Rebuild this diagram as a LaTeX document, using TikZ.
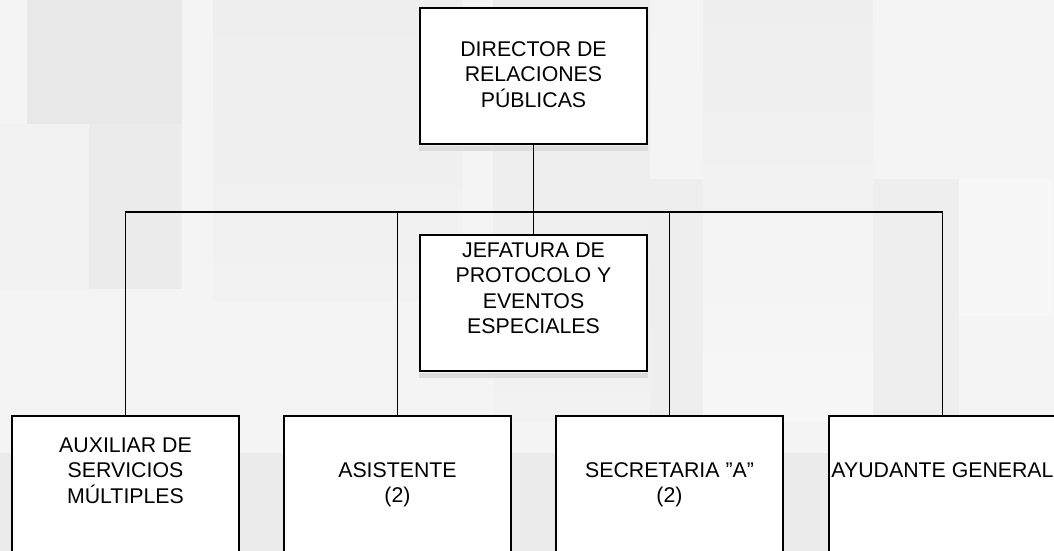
\documentclass[tikz,border=0pt]{standalone}
\usepackage{fontspec}
\setmainfont{Liberation Sans}
\definecolor{fondoA}{HTML}{F4F4F4}
\definecolor{fondoB}{HTML}{E8E8E8}
\definecolor{fondoC}{HTML}{EBEBEB}
\definecolor{fondoD}{HTML}{EEEEEE}
\definecolor{fondoE}{HTML}{F2F2F2}
\definecolor{fondoF}{HTML}{F7F7F7}
\definecolor{sombraC}{HTML}{DCDCDC}
\begin{document}
\begin{tikzpicture}[x=1pt,y=-1pt,
    caja/.style={draw=black, line width=1.5pt, fill=white, minimum width=227pt, minimum height=136pt, inner sep=0pt},
    texto/.style={anchor=north, inner sep=0pt, align=center, font=\fontsize{21.3}{25.5}\selectfont},
    linea/.style={black, line width=1.5pt}]
    \useasboundingbox (0,0) rectangle (1054,551);
    \clip (0,0) rectangle (1054,551);
    % fondo
    \fill[fondoA] (0,0) rectangle (1054,551);
    \fill[fondoB] (27,0) rectangle (182,124);
    \fill[fondoC] (89,124) rectangle (182,289);
    \fill[fondoE] (0,124) rectangle (89,289);
    \shade[top color=fondoD, bottom color=fondoE] (213,0) rectangle (462,300);
    \shade[top color=fondoC, bottom color=fondoE] (493,0) rectangle (650,420);
    \shade[top color=fondoD, bottom color=fondoF] (703,0) rectangle (873,420);
    \fill[fondoD] (650,179) rectangle (703,420);
    \fill[fondoD] (873,179) rectangle (959,420);
    \fill[fondoF] (959,179) rectangle (1052,316);
    \fill[fondoC] (0,453) rectangle (1054,551);
    % cajas
    \node[caja] (dir) at (533.5,76) {};
    \node[caja] (jef) at (533.5,303) {};
    \node[caja] (aux) at (125.5,484) {};
    \node[caja] (asi) at (397.5,484) {};
    \node[caja] (sec) at (669.5,484) {};
    \node[caja] (ayu) at (942.5,484) {};
    % sombras
    \fill[sombraC] ([yshift=-0.8pt]dir.south west) rectangle ([yshift=-6pt]dir.south east);
    \fill[sombraC] ([yshift=-0.8pt]jef.south west) rectangle ([yshift=-6pt]jef.south east);
    % textos
    \node[texto] (dirT) at ([yshift=-34pt]dir.north) {DIRECTOR DE\\RELACIONES\\PÚBLICAS};
    \node[texto] (jefT) at ([yshift=-8pt]jef.north) {JEFATURA DE\\PROTOCOLO Y\\EVENTOS\\ESPECIALES};
    \node[texto] (auxT) at ([yshift=-22pt]aux.north) {AUXILIAR DE\\SERVICIOS\\MÚLTIPLES};
    \node[texto] (asiT) at ([yshift=-47pt]asi.north) {ASISTENTE\\(2)};
    \node[texto] (secT) at ([yshift=-47pt]sec.north) {SECRETARIA ”A”\\(2)};
    \node[texto] (ayuT) at ([yshift=-47pt]ayu.north) {AYUDANTE GENERAL};
    % lineas
    \coordinate (bus) at (533.5,212);
    \draw[linea] (dir.south) -- (jef.north);
    \draw[linea] (aux.north) |- (bus) -| (ayu.north);
    \draw[linea] (asi.north) -- (asi.north |- bus);
    \draw[linea] (sec.north) -- (sec.north |- bus);
\end{tikzpicture}
\end{document}
